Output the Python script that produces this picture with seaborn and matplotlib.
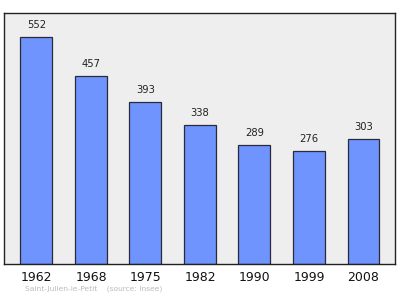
import matplotlib
matplotlib.use("Agg")
import matplotlib.pyplot as plt
import seaborn as sns
import pandas as pd

years = ["1962", "1968", "1975", "1982", "1990", "1999", "2008"]
population = [552, 457, 393, 338, 289, 276, 303]

df = pd.DataFrame({"year": years, "pop": population})

sns.set_style("white")
plt.rcParams['font.family'] = ['DejaVu Sans']

fig = plt.figure(figsize=(4.0, 2.99), dpi=100)
ax = fig.add_axes([0.01, 0.117, 0.9775, 0.839])
ax.set_facecolor("#eeeeee")

sns.barplot(data=df, x="year", y="pop", ax=ax, color="#6f94fe",
            saturation=1, width=0.587, edgecolor="#2a2a3a", linewidth=0.9)

ax.set_xlim(-0.596, 6.578)
ax.set_ylim(0, 610)
ax.set_xlabel("")
ax.set_ylabel("")
ax.set_yticks([])
ax.tick_params(axis="x", length=0, pad=5, labelsize=9, colors="#111111")
for s in ax.spines.values():
    s.set_color("#222222")
    s.set_linewidth(1.0)

for c in ax.containers:
    ax.bar_label(c, labels=[str(v) for v in population], padding=5,
                 fontsize=7.2, color="#222222")

fig.text(0.062, 0.027, "Saint-Julien-le-Petit    (source: Insee)",
         fontsize=5.4, color="#bbbbbb")

fig.savefig("out.png", dpi=100)
